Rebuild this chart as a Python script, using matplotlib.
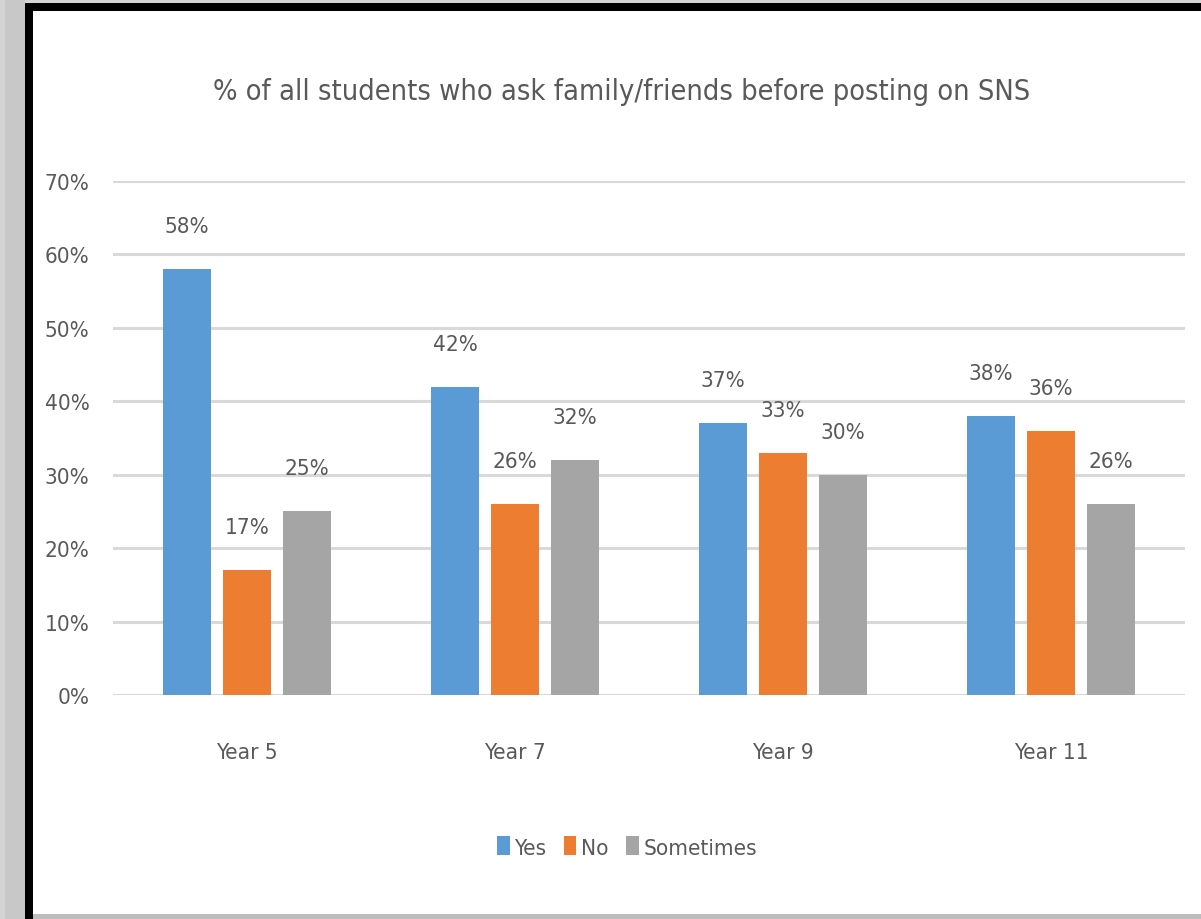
import numpy as np
import matplotlib
matplotlib.use('Agg')
import matplotlib.pyplot as plt
from matplotlib import font_manager as fm
from matplotlib.patches import Rectangle
from matplotlib.ticker import PercentFormatter

# data
categories = ['Year 5', 'Year 7', 'Year 9', 'Year 11']
series_names = ['Yes', 'No', 'Sometimes']
yes_vals = [58, 42, 37, 38]
no_vals = [17, 26, 33, 36]
sometimes_vals = [25, 32, 30, 26]
colors = ['#5B9BD5', '#ED7D31', '#A5A5A5']

# the chart uses a narrow (Calibri-like) face: pick the narrowest installed one
fonts = fm.fontManager.ttflist
names = set(f.name for f in fonts)
scale = 1.0
if 'Liberation Sans Narrow' in names:
    plt.rcParams['font.family'] = ['Liberation Sans Narrow', 'DejaVu Sans']
elif any(f.name == 'DejaVu Sans' and f.stretch == 'condensed' for f in fonts):
    plt.rcParams['font.family'] = ['DejaVu Sans']
    plt.rcParams['font.stretch'] = 'condensed'
    scale = 0.85
else:
    plt.rcParams['font.family'] = ['Roboto', 'DejaVu Sans']
    scale = 0.78
txt = '#595959'

fig = plt.figure(figsize=(12.01, 9.2), dpi=100)
fig.patch.set_facecolor('#d4d4d4')
W, H = 1201.0, 920.0

# screenshot frame: black border and white panel
fig.patches.append(Rectangle((5 / W, 0), 20 / W, 1, transform=fig.transFigure,
                             facecolor='#c8c8c8', edgecolor='none', zorder=-3))
fig.patches.append(Rectangle((25 / W, 0), 1 - 25 / W, (H - 4) / H, transform=fig.transFigure,
                             facecolor='black', edgecolor='none', zorder=-2))
fig.patches.append(Rectangle((33 / W, 5 / H), 1 - 33 / W, (H - 12 - 5) / H, transform=fig.transFigure,
                             facecolor='white', edgecolor='none', zorder=-1))
fig.patches.append(Rectangle((33 / W, 0), 1 - 33 / W, 5 / H, transform=fig.transFigure,
                             facecolor='#bdbdbd', edgecolor='none', zorder=-1))

ax = fig.add_axes([113 / W, 224 / H, 1072 / W, 514 / H])
ax.set_facecolor('none')

fs = 19 * scale
x = np.arange(len(categories))
width = 0.179
step = 0.224
all_vals = [yes_vals, no_vals, sometimes_vals]
for i, vals in enumerate(all_vals):
    pos = x + (i - 1) * step
    bars = ax.bar(pos, vals, width, color=colors[i], label=series_names[i], zorder=3)
    for b, v in zip(bars, vals):
        ax.text(b.get_x() + b.get_width() / 2, v + 4.5, '%d%%' % v,
                ha='center', va='bottom', fontsize=fs, color=txt)

ax.set_xlim(-0.5, 3.5)
ax.set_ylim(0, 70)
ax.set_yticks(np.arange(0, 71, 10))
ax.yaxis.set_major_formatter(PercentFormatter(decimals=0))
ax.grid(axis='y', color='#d9d9d9', linewidth=2.2, zorder=0)
ax.set_xticks(x)
ax.set_xticklabels(categories)
ax.tick_params(axis='both', length=0, labelsize=fs, colors=txt)
ax.tick_params(axis='x', pad=34)
ax.tick_params(axis='y', pad=17)
for s in ax.spines.values():
    s.set_visible(False)

fig.text(622 / W, 1 - 92 / H, '% of all students who ask family/friends before posting on SNS',
         ha='center', va='center', fontsize=24.5 * scale, color=txt)

leg = fig.legend(loc='center', bbox_to_anchor=(627 / W, 1 - 848 / H), ncol=3, frameon=False,
                 fontsize=fs, labelcolor=txt, handlelength=0.55, handleheight=0.9,
                 handletextpad=0.2, columnspacing=0.8)

fig.savefig('out.png', dpi=100, facecolor=fig.get_facecolor())
